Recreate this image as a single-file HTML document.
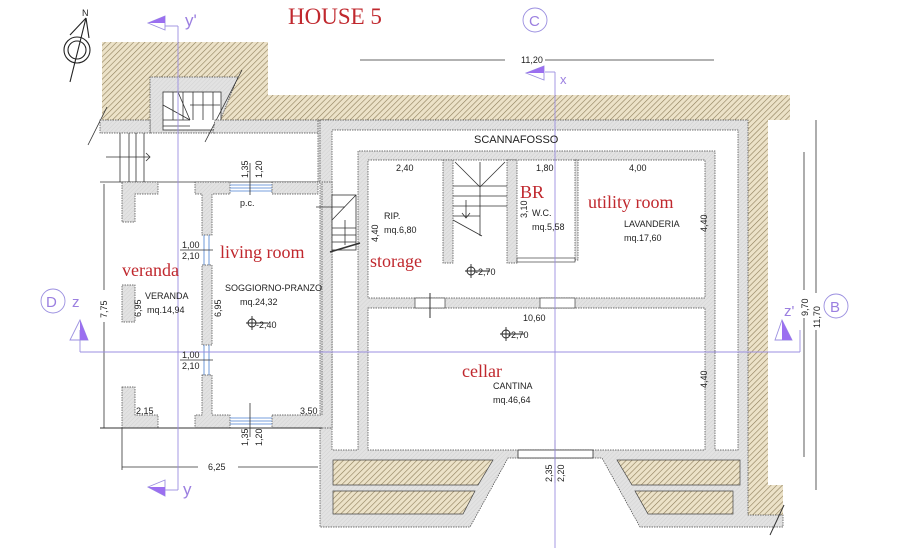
<!DOCTYPE html>
<html><head><meta charset="utf-8"><style>
html,body{margin:0;padding:0;background:#fff;}
svg{display:block;}
.t{font-family:"Liberation Sans",sans-serif;font-size:9px;fill:#222;}
.r{font-family:"Liberation Serif",serif;fill:#c0282e;}
.p{font-family:"Liberation Sans",sans-serif;fill:#9b7fe0;}
</style></head><body>
<svg width="900" height="548" viewBox="0 0 900 548" xmlns="http://www.w3.org/2000/svg">
<defs>
<pattern id="h" width="4" height="4" patternUnits="userSpaceOnUse" patternTransform="rotate(45)">
<rect width="4" height="4" fill="#ece2c8"/><line x1="0" y1="0" x2="0" y2="4" stroke="#8f7f5c" stroke-width="1.2"/>
</pattern>
<pattern id="w" width="3" height="3" patternUnits="userSpaceOnUse" patternTransform="rotate(45)">
<rect width="3" height="3" fill="#e2e2e2"/><line x1="0" y1="0" x2="0" y2="3" stroke="#c8c8c8" stroke-width="0.6"/>
</pattern>
</defs>
<rect width="900" height="548" fill="#fff"/>
<!-- earth -->
<path d="M102,42 H268 V95 H790 V120 H768 V485 H783 V515 H748 V120 H102 Z" fill="url(#h)"/>
<!-- stair housing -->
<path d="M150,133 V77 H238 L215,133 Z" fill="url(#w)" stroke="#444" stroke-width="0.7" stroke-dasharray="1.5,1"/>
<rect x="163" y="92" width="58" height="38" fill="#fff" stroke="#333" stroke-width="0.8"/>
<g stroke="#333" stroke-width="0.8">
<line x1="173" y1="92" x2="173" y2="120"/><line x1="183" y1="92" x2="183" y2="120"/><line x1="193" y1="92" x2="193" y2="120"/><line x1="203" y1="92" x2="203" y2="120"/><line x1="213" y1="92" x2="213" y2="120"/>
<line x1="163" y1="120" x2="190" y2="120"/><line x1="163" y1="126" x2="190" y2="126"/><line x1="163" y1="105" x2="190" y2="120"/><line x1="178" y1="92" x2="190" y2="120"/>
<line x1="190" y1="105" x2="220" y2="105"/>
<line x1="242" y1="70" x2="205" y2="142"/><line x1="107" y1="107" x2="88" y2="145"/>
</g>
<!-- entry top wall -->
<path d="M100,120 H150 V133 H100 Z M215,120 H320 V133 H213 Z" fill="url(#w)" stroke="#444" stroke-width="0.7" stroke-dasharray="1.5,1"/>
<rect x="318" y="120" width="14" height="62" fill="url(#w)" stroke="#444" stroke-width="0.7" stroke-dasharray="1.5,1"/>
<!-- entry steps -->
<g stroke="#333" stroke-width="0.8">
<line x1="120" y1="133" x2="120" y2="182"/><line x1="129" y1="133" x2="129" y2="182"/><line x1="136" y1="133" x2="136" y2="182"/><line x1="144" y1="133" x2="144" y2="182"/>
<line x1="100" y1="182" x2="318" y2="182"/>
<line x1="106" y1="157" x2="150" y2="157"/><polyline points="146,153 150,157 146,161" fill="none"/>
</g>
<!-- basement mass -->
<path d="M320,120 H748 V515 H783 V527 H640 L602,458 H508 L470,527 H320 Z" fill="url(#w)" stroke="#444" stroke-width="0.7" stroke-dasharray="1.5,1"/>
<path d="M332,130 H738 V450 H715 V151 H358 V450 H332 Z" fill="#fff" stroke="#444" stroke-width="0.7" stroke-dasharray="1.5,1"/>
<!-- rooms -->
<g fill="#fff" stroke="#444" stroke-width="0.7" stroke-dasharray="1.5,1">
<rect x="368" y="160" width="337" height="138"/>
<rect x="368" y="308" width="337" height="142"/>
</g>
<g fill="url(#w)" stroke="#444" stroke-width="0.7" stroke-dasharray="1.5,1">
<rect x="443" y="160" width="10" height="103"/>
<rect x="507" y="160" width="10" height="103"/>
<rect x="575" y="160" width="3" height="100"/>
</g>
<rect x="517" y="258" width="58" height="4" fill="#fff" stroke="#444" stroke-width="0.7"/>
<rect x="415" y="298" width="30" height="10" fill="#fff" stroke="#444" stroke-width="0.7"/>
<rect x="540" y="298" width="35" height="10" fill="#fff" stroke="#444" stroke-width="0.7"/>
<line x1="430" y1="293" x2="430" y2="318" stroke="#333"/>
<!-- inner stair -->
<g stroke="#333" stroke-width="0.8" fill="none">
<line x1="455" y1="162" x2="480" y2="187"/><line x1="505" y1="162" x2="480" y2="187"/><line x1="480" y1="187" x2="480" y2="236"/><line x1="480" y1="162" x2="480" y2="187"/>
<line x1="453" y1="186" x2="507" y2="186"/><line x1="453" y1="196" x2="507" y2="196"/><line x1="453" y1="206" x2="507" y2="206"/><line x1="453" y1="216" x2="480" y2="216"/>
<line x1="453" y1="220" x2="482" y2="236"/><line x1="466" y1="200" x2="466" y2="218"/><polyline points="462,213 466,218 470,213"/>
</g>
<!-- bottom hatch boxes & opening -->
<g fill="url(#h)" stroke="#444" stroke-width="0.7">
<path d="M333,460 H493 L478,485 H333 Z"/><path d="M333,491 H475 L463,514 H333 Z"/>
<path d="M617,460 H740 V485 H632 Z"/><path d="M635,491 H733 V514 H648 Z"/>
</g>
<rect x="518" y="450" width="75" height="8" fill="#fff" stroke="#333" stroke-width="0.8"/>
<line x1="784" y1="505" x2="770" y2="535" stroke="#333"/>
<!-- left house walls -->
<g fill="url(#w)" stroke="#444" stroke-width="0.7" stroke-dasharray="1.5,1">
<path d="M122,182 H158 V194 H135 V222 H122 Z"/>
<rect x="122" y="285" width="13" height="37"/>
<path d="M122,387 H135 V415 H158 V428 H122 Z"/>
<path d="M195,182 H230 V194 H212 V235 H202 V194 H195 Z"/>
<rect x="272" y="182" width="46" height="12"/>
<rect x="202" y="265" width="10" height="80"/>
<path d="M202,375 H212 V415 H230 V428 H195 V415 H202 Z"/>
<path d="M272,415 H322 V182 H332 V428 H272 Z"/>
</g>
<g stroke="#4a7fd0" stroke-width="0.8">
<line x1="230" y1="185" x2="272" y2="185"/><line x1="230" y1="188" x2="272" y2="188"/><line x1="230" y1="191" x2="272" y2="191"/>
<line x1="230" y1="418" x2="272" y2="418"/><line x1="230" y1="421" x2="272" y2="421"/><line x1="230" y1="424" x2="272" y2="424"/>
<line x1="204" y1="235" x2="204" y2="265"/><line x1="209" y1="235" x2="209" y2="265"/>
<line x1="204" y1="345" x2="204" y2="375"/><line x1="209" y1="345" x2="209" y2="375"/>
</g>
<line x1="100" y1="428" x2="322" y2="428" stroke="#333"/>
<!-- small stair near living -->
<g stroke="#333" stroke-width="0.8" fill="none">
<rect x="332" y="195" width="24" height="55" fill="#fff"/>
<line x1="332" y1="220" x2="356" y2="195"/><line x1="332" y1="228" x2="356" y2="228"/><line x1="332" y1="235" x2="356" y2="235"/><line x1="332" y1="242" x2="356" y2="242"/>
<line x1="345" y1="220" x2="345" y2="245"/><line x1="330" y1="252" x2="360" y2="243" stroke-width="1.6"/>
<line x1="316" y1="207" x2="345" y2="207"/>
</g>
<!-- dims -->
<g stroke="#333" stroke-width="0.8">
<line x1="360" y1="60" x2="505" y2="60"/><line x1="545" y1="60" x2="714" y2="60"/>
<line x1="104" y1="184" x2="104" y2="290"/><line x1="104" y1="322" x2="104" y2="428"/>
<line x1="122" y1="467" x2="198" y2="467"/><line x1="238" y1="467" x2="318" y2="467"/><line x1="122" y1="428" x2="122" y2="470"/>
<line x1="804" y1="152" x2="804" y2="290"/><line x1="804" y1="318" x2="804" y2="457"/>
<line x1="816" y1="120" x2="816" y2="293"/><line x1="816" y1="330" x2="816" y2="490"/>
<line x1="250" y1="163" x2="250" y2="195"/><line x1="250" y1="403" x2="250" y2="437"/>
<line x1="180" y1="250" x2="213" y2="250"/><line x1="180" y1="360" x2="213" y2="360"/>
<line x1="555" y1="440" x2="555" y2="483"/>
</g>
<!-- purple axes -->
<g stroke="#9b8fe0" stroke-width="0.9" fill="none">
<line x1="178" y1="26" x2="178" y2="490"/><line x1="80" y1="352" x2="800" y2="352"/><line x1="555" y1="72" x2="555" y2="548"/>
<line x1="80" y1="330" x2="80" y2="352"/><line x1="800" y1="330" x2="800" y2="352"/>
<line x1="165" y1="26" x2="178" y2="26"/><line x1="165" y1="490" x2="178" y2="490"/><line x1="545" y1="72" x2="555" y2="72"/>
<circle cx="53" cy="301" r="12"/><circle cx="836" cy="306" r="12"/><circle cx="535" cy="20" r="12"/>
<path d="M148,23 L165,16 L165,30 Z"/><path d="M148,487 L165,480 L165,496 Z"/><path d="M526,73 L544,66 L544,80 Z"/>
<path d="M80,320 L70,340 L88,340 Z"/><path d="M782,320 L775,340 L792,340 Z"/>
</g>
<g fill="#9b6ff0">
<path d="M148,23 L165,16 L165,23 Z"/><path d="M148,487 L165,487 L165,496 Z"/><path d="M526,73 L544,66 L544,73 Z"/>
<path d="M80,320 L80,340 L88,340 Z"/><path d="M782,320 L782,340 L792,340 Z"/>
</g>
<text class="p" x="185" y="26" font-size="17">y'</text>
<text class="p" x="183" y="495" font-size="17">y</text>
<text class="p" x="560" y="84" font-size="13">x</text>
<text class="p" x="72" y="307" font-size="15">z</text>
<text class="p" x="784" y="316" font-size="15">z'</text>
<text class="p" x="46" y="307" font-size="15">D</text>
<text class="p" x="830" y="312" font-size="15">B</text>
<text class="p" x="529" y="26" font-size="15">C</text>
<!-- compass -->
<g stroke="#222" fill="none" stroke-width="1.1">
<circle cx="77" cy="50" r="13"/><circle cx="77" cy="50" r="9"/>
<line x1="70" y1="82" x2="86" y2="18"/><line x1="86" y1="18" x2="70" y2="35"/><line x1="86" y1="18" x2="89" y2="38"/>
</g>
<text class="t" x="82" y="16" font-size="11">N</text>
<text class="r" x="288" y="24" font-size="23">HOUSE 5</text>
<!-- labels -->
<text class="r" x="122" y="276" font-size="18">veranda</text>
<text class="r" x="220" y="258" font-size="18">living room</text>
<text class="r" x="370" y="267" font-size="18">storage</text>
<text class="r" x="520" y="198" font-size="18">BR</text>
<text class="r" x="588" y="208" font-size="18">utility room</text>
<text class="r" x="462" y="377" font-size="18">cellar</text>
<g class="t">
<text x="474" y="143" font-size="11">SCANNAFOSSO</text>
<text x="396" y="171">2,40</text><text x="536" y="171">1,80</text><text x="629" y="171">4,00</text>
<text x="384" y="219">RIP.</text><text x="384" y="233">mq.6,80</text>
<text x="532" y="216">W.C.</text><text x="532" y="230">mq.5,58</text>
<text x="624" y="227">LAVANDERIA</text><text x="624" y="241">mq.17,60</text>
<text x="225" y="291">SOGGIORNO-PRANZO</text><text x="240" y="305">mq.24,32</text>
<text x="145" y="299">VERANDA</text><text x="147" y="313">mq.14,94</text>
<text x="256" y="328">-2,40</text><text x="475" y="275">-2,70</text><text x="508" y="338">-2,70</text>
<text x="523" y="321">10,60</text>
<text x="493" y="389">CANTINA</text><text x="493" y="403">mq.46,64</text>
<text x="240" y="206">p.c.</text>
<text x="182" y="248">1,00</text><text x="182" y="259">2,10</text>
<text x="182" y="358">1,00</text><text x="182" y="369">2,10</text>
<text x="136" y="414">2,15</text><text x="300" y="414">3,50</text>
<text x="208" y="470">6,25</text><text x="521" y="63">11,20</text>
</g>
<g class="t">
<text transform="translate(248,178) rotate(-90)">1,35</text><text transform="translate(262,178) rotate(-90)">1,20</text>
<text transform="translate(248,446) rotate(-90)">1,35</text><text transform="translate(262,446) rotate(-90)">1,20</text>
<text transform="translate(552,482) rotate(-90)">2,35</text><text transform="translate(564,482) rotate(-90)">2,20</text>
<text transform="translate(107,318) rotate(-90)">7,75</text>
<text transform="translate(141,317) rotate(-90)">6,95</text><text transform="translate(221,317) rotate(-90)">6,95</text>
<text transform="translate(378,242) rotate(-90)">4,40</text>
<text transform="translate(527,218) rotate(-90)">3,10</text>
<text transform="translate(707,232) rotate(-90)">4,40</text><text transform="translate(707,388) rotate(-90)">4,40</text>
<text transform="translate(808,316) rotate(-90)">9,70</text><text transform="translate(820,328) rotate(-90)">11,70</text>
</g>
<g stroke="#222" fill="none" stroke-width="0.9">
<circle cx="252" cy="323" r="4"/><line x1="246" y1="323" x2="268" y2="323"/><line x1="252" y1="316" x2="252" y2="330"/>
<circle cx="471" cy="271" r="4"/><line x1="465" y1="271" x2="490" y2="271"/><line x1="471" y1="264" x2="471" y2="278"/>
<circle cx="506" cy="334" r="4"/><line x1="500" y1="334" x2="524" y2="334"/><line x1="506" y1="327" x2="506" y2="341"/>
</g>
</svg>
</body></html>
